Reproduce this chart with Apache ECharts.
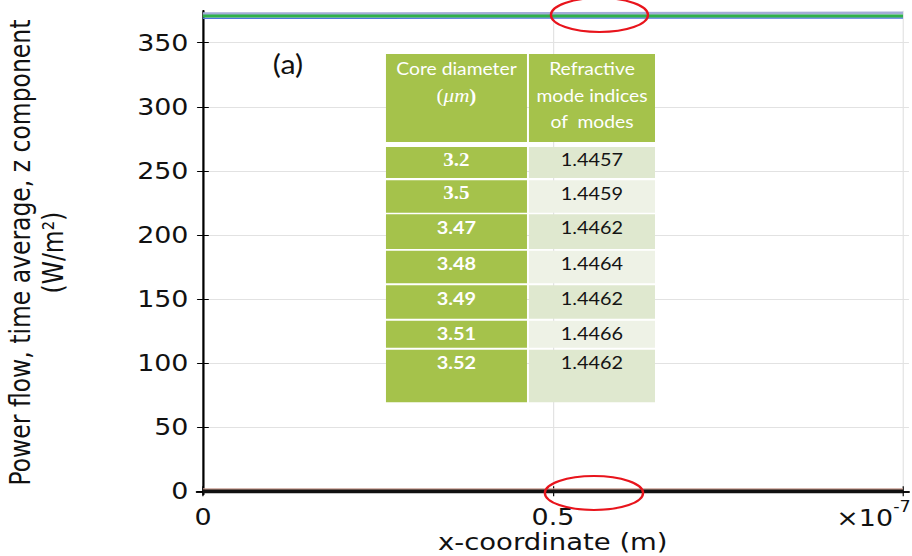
<!DOCTYPE html>
<html>
<head>
<meta charset="utf-8">
<script src="https://cdn.jsdelivr.net/npm/echarts@6.0.0/dist/echarts.min.js"></script>
<style>
  html, body { margin: 0; padding: 0; background: #fff; overflow: hidden; width: 912px; height: 556px; }
  /* the plot is laid out on a 780px canvas and widened to 912px */
  #chart { width: 780px; height: 556px; transform: scaleX(1.16923); transform-origin: 0 0; }
</style>
</head>
<body>
<div id="chart"></div>
<script>
// x positions along the cut line, in units of 1e-7 m
const xCoord = [0, 0.25, 0.5, 0.75, 1.0];

// time-averaged z power flow (W/m^2) for each curve
const fluxLavender = [372.7, 372.7, 372.8, 373.0, 373.2];
const fluxGreen    = [370.8, 370.8, 370.8, 370.8, 370.8];
const fluxBlue     = [369.1, 369.2, 369.3, 369.3, 369.3];
const fluxPink     = [1.8, 1.8, 1.8, 1.8, 1.8];
const fluxBrown    = [0.6, 0.6, 0.6, 0.6, 0.6];
const fluxBlack    = [-0.2, -0.2, -0.2, -0.2, -0.2];

// tick labels
const xTickLabels = [0, 0.5];
const xTickMarks = [0, 0.5, 1.0];
const yTickLabels = [0, 50, 100, 150, 200, 250, 300, 350];

// inset table
const tableHeader = [['Core diameter', '(μm)'], ['Refractive', 'mode indices', 'of  modes']];
const coreDiameters = ['3.2', '3.5', '3.47', '3.48', '3.49', '3.51', '3.52'];
const modeIndices = ['1.4457', '1.4459', '1.4462', '1.4464', '1.4462', '1.4466', '1.4462'];

const chart = echarts.init(document.getElementById('chart'), null, { renderer: 'svg' });

function pairs(ys) { return xCoord.map((x, i) => [x, ys[i]]); }

function curve(name, ys, color, width) {
  return {
    name, type: 'line', data: pairs(ys), showSymbol: false, symbol: 'none',
    lineStyle: { color, width }, silent: true, animation: false, z: 3
  };
}

const axisFont = { fontFamily: 'DejaVu Sans', fontSize: 23, color: '#111' };
const nameFont = { fontFamily: 'DejaVu Sans', fontSize: 23.5, color: '#111' };
const frameLine = { show: true, lineStyle: { color: '#000', width: 1.5 } };

// table layout
const col1 = { x: 330.1, w: 120.6 };
const col2 = { x: 452.4, w: 107.8 };
const headBox = { y: 54, h: 88 };
const rowTop = [147, 180.3, 214.3, 250.7, 285.3, 320.7, 349.7];
const rowBottom = [178, 212.7, 249, 283.3, 318.7, 347.7, 402.3];
const green = '#a5c24b';
const paleA = '#dfe8cf';
const paleB = '#eef2e6';

function txt(x, y, text, font, fill, extra) {
  return {
    type: 'text', x, y, silent: true, z: 20,
    style: Object.assign({
      text, font, fill,
      align: 'center', verticalAlign: 'middle',
      textAlign: 'center', textVerticalAlign: 'middle'
    }, extra || {})
  };
}

const graphics = [];
// header cells
graphics.push({ type: 'rect', silent: true, z: 10, shape: { x: col1.x, y: headBox.y, width: col1.w, height: headBox.h }, style: { fill: green } });
graphics.push({ type: 'rect', silent: true, z: 10, shape: { x: col2.x, y: headBox.y, width: col2.w, height: headBox.h }, style: { fill: green } });
graphics.push(txt(col1.x + col1.w / 2, 69, tableHeader[0][0], '16.5px Lato', '#fff'));
graphics.push({
  type: 'text', x: col1.x + col1.w / 2, y: 96.5, silent: true, z: 20,
  style: {
    text: '{p|(}{i|μm}{b|)}', align: 'center', verticalAlign: 'middle',
    rich: {
      p: { font: '18px "Liberation Serif"', fill: '#fff' },
      i: { font: 'italic 18px "Liberation Serif"', fill: '#fff' },
      b: { font: 'bold 18px "Liberation Serif"', fill: '#fff' }
    }
  }
});
tableHeader[1].forEach((line, k) => {
  graphics.push(txt(col2.x + col2.w / 2, 69 + k * 26.5, line, '16.5px Lato', '#fff'));
});
// body rows
coreDiameters.forEach((d, i) => {
  const y0 = rowTop[i], h = rowBottom[i] - rowTop[i];
  graphics.push({ type: 'rect', silent: true, z: 10, shape: { x: col1.x, y: y0, width: col1.w, height: h }, style: { fill: green } });
  graphics.push({ type: 'rect', silent: true, z: 10, shape: { x: col2.x, y: y0, width: col2.w, height: h }, style: { fill: i % 2 === 0 ? paleA : paleB } });
  const dFont = i < 2 ? 'bold 18px "Liberation Serif"' : 'bold 17px Lato';
  graphics.push(txt(col1.x + col1.w / 2, y0 + 13, d, dFont, '#fff'));
  graphics.push(txt(col2.x + col2.w / 2, y0 + 13, modeIndices[i], '17px Lato', '#141414'));
});
// panel tag
graphics.push(txt(246.3, 64, '(a)', '26px Lato', '#111'));
// axis multiplier
graphics.push(txt(763.8, 518, '×10', '23px "DejaVu Sans"', '#111', { align: 'right', textAlign: 'right' }));
graphics.push(txt(764, 507, '-7', '15px "DejaVu Sans"', '#111', { align: 'left', textAlign: 'left' }));
// red highlight rings
graphics.push({ type: 'ellipse', silent: true, z: 30, shape: { cx: 512.7, cy: 15, rx: 41.5, ry: 17 }, style: { fill: 'none', stroke: '#e8141c', lineWidth: 2 } });
graphics.push({ type: 'ellipse', silent: true, z: 30, shape: { cx: 508, cy: 493, rx: 42, ry: 17 }, style: { fill: 'none', stroke: '#e8141c', lineWidth: 2 } });

const option = {
  animation: false,
  backgroundColor: '#fff',
  grid: { left: 168.2, right: 2.6, top: 10.7, bottom: 61.5, containLabel: false, outerBoundsMode: 'none' },
  xAxis: [
    {
      type: 'value', min: -0.009, max: 1.0085, splitNumber: 2, position: 'bottom',
      name: 'x-coordinate (m)', nameLocation: 'middle', nameGap: 37.5, nameMoveOverlap: false,
      nameTextStyle: Object.assign({ lineHeight: 20 }, nameFont),
      axisLine: frameLine,
      axisTick: { show: true, inside: true, length: 5, customValues: xTickMarks, lineStyle: { color: '#000' } },
      axisLabel: Object.assign({ customValues: xTickLabels, margin: 13.5, lineHeight: 18 }, axisFont),
      splitLine: { show: true, lineStyle: { color: '#e2e2e2', width: 1 } }
    },
    {
      type: 'value', min: -0.009, max: 1.0085, position: 'top',
      axisLine: frameLine,
      axisTick: { show: true, inside: true, length: 5, customValues: xTickMarks, lineStyle: { color: '#000' } },
      axisLabel: { show: false },
      splitLine: { show: false }
    }
  ],
  yAxis: [
    {
      type: 'value', min: -2.5, max: 375, splitNumber: 7, position: 'left',
      name: 'Power flow, time average, z component\n(W/m²)', nameLocation: 'middle', nameGap: 109, nameMoveOverlap: false,
      nameTextStyle: Object.assign({ lineHeight: 28 }, nameFont),
      axisLine: frameLine,
      axisTick: { show: true, inside: true, length: 5, customValues: yTickLabels, lineStyle: { color: '#000' } },
      axisLabel: Object.assign({ customValues: yTickLabels, margin: 7 }, axisFont),
      splitLine: { show: true, lineStyle: { color: '#e2e2e2', width: 1 } }
    },
    {
      type: 'value', min: -2.5, max: 375, position: 'right',
      axisLine: frameLine,
      axisTick: { show: true, inside: true, length: 5, customValues: yTickLabels, lineStyle: { color: '#000' } },
      axisLabel: { show: false },
      splitLine: { show: false }
    }
  ],
  series: [
    curve('pink', fluxPink, '#c9a196', 1.5),
    curve('brown', fluxBrown, '#4a2a1e', 2),
    curve('black', fluxBlack, '#111111', 3.5),
    curve('lavender', fluxLavender, '#a3acd8', 3),
    curve('blue', fluxBlue, '#4f74dc', 1.5),
    curve('green', fluxGreen, '#2fb24a', 3)
  ],
  graphic: graphics
};

chart.setOption(option);
</script>
</body>
</html>
